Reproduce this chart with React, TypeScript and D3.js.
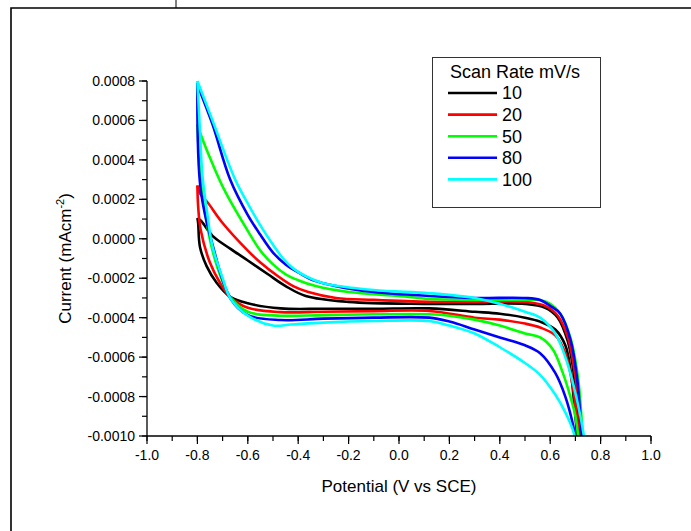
import React from 'react';
import * as d3 from 'd3';

type Pt = [number, number];

// scan rates (mV/s) and colours
const rates = ['10', '20', '50', '80', '100'];
const colors = ['#000000', '#ff0000', '#00ff00', '#0000ff', '#00ffff'];

// forward (upper) branches, potential V vs current
const upper10: Pt[] = [[-0.8, 0.000105], [-0.785, 0.00009], [-0.74, 0.000015], [-0.67, -0.00005], [-0.6, -0.00011], [-0.52, -0.00018], [-0.45, -0.00024], [-0.37, -0.00029], [-0.2, -0.00032], [0.1, -0.00033], [0.3, -0.00033], [0.5, -0.00033], [0.58, -0.00035], [0.63, -0.0004], [0.67, -0.00052], [0.69, -0.00065], [0.71, -0.0009], [0.72, -0.00105]];
const upper20: Pt[] = [[-0.8, 0.00027], [-0.79, 0.00023], [-0.757, 0.00018], [-0.7, 0.00008], [-0.6, -0.00006], [-0.55, -0.00012], [-0.48, -0.00019], [-0.42, -0.00024], [-0.36, -0.00027], [-0.25, -0.0003], [-0.1, -0.00031], [0.12, -0.00032], [0.3, -0.00032], [0.5, -0.00032], [0.58, -0.00034], [0.63, -0.00039], [0.67, -0.0005], [0.7, -0.0007], [0.72, -0.00095], [0.73, -0.00105]];
const upper50: Pt[] = [[-0.8, 0.00058], [-0.787, 0.00053], [-0.74, 0.00038], [-0.69, 0.00024], [-0.6, 0.00004], [-0.55, -0.00006], [-0.5, -0.00013], [-0.45, -0.00018], [-0.4, -0.00021], [-0.33, -0.00024], [-0.2, -0.00027], [0, -0.00029], [0.12, -0.000305], [0.3, -0.00031], [0.5, -0.00031], [0.56, -0.00031], [0.6, -0.00033], [0.64, -0.00038], [0.68, -0.0005], [0.71, -0.0007], [0.73, -0.001], [0.735, -0.00105]];
const upper80: Pt[] = [[-0.8, 0.00079], [-0.79, 0.00075], [-0.74, 0.00058], [-0.67, 0.0003], [-0.6, 0.00012], [-0.55, 0.00002], [-0.5, -0.00007], [-0.45, -0.00013], [-0.4, -0.00017], [-0.34, -0.00021], [-0.25, -0.00024], [-0.1, -0.00027], [0.12, -0.00029], [0.3, -0.0003], [0.5, -0.0003], [0.56, -0.00031], [0.6, -0.00034], [0.64, -0.00038], [0.68, -0.00051], [0.706, -0.0007], [0.726, -0.001], [0.73, -0.00105]];
const upper100: Pt[] = [[-0.8, 0.0008], [-0.74, 0.0006], [-0.65, 0.0003], [-0.59, 0.000156], [-0.544, 0.000055], [-0.5, -0.00003], [-0.46, -0.0001], [-0.42, -0.00015], [-0.37, -0.00019], [-0.3, -0.000225], [-0.1, -0.00026], [0.12, -0.000276], [0.3, -0.0003], [0.4, -0.00033], [0.5, -0.00037], [0.56, -0.0004], [0.62, -0.00048], [0.66, -0.0006], [0.69, -0.00073], [0.72, -0.0009], [0.74, -0.00105]];

// reverse (lower) branches
const lower10: Pt[] = [[-0.8, 0.000105], [-0.797, 0.00008], [-0.79, -0.00004], [-0.763, -0.00014], [-0.723, -0.000224], [-0.67, -0.000294], [-0.6, -0.000327], [-0.47, -0.000353], [-0.3, -0.000355], [-0.1, -0.000355], [0.12, -0.000353], [0.3, -0.00037], [0.4, -0.00038], [0.5, -0.0004], [0.56, -0.00042], [0.62, -0.00046], [0.66, -0.00054], [0.68, -0.00066], [0.7, -0.0009], [0.71, -0.00105]];
const lower20: Pt[] = [[-0.8, 0.00027], [-0.797, 0.000164], [-0.787, 0.000046], [-0.75, -0.000122], [-0.71, -0.000224], [-0.67, -0.000295], [-0.6, -0.00035], [-0.47, -0.000372], [-0.3, -0.00037], [-0.1, -0.000367], [0.12, -0.000366], [0.3, -0.0004], [0.4, -0.00041], [0.5, -0.00043], [0.56, -0.00045], [0.62, -0.00049], [0.66, -0.00058], [0.69, -0.00075], [0.71, -0.00095], [0.72, -0.00105]];
const lower50: Pt[] = [[-0.8, 0.00058], [-0.787, 0.0003], [-0.77, 0.000132], [-0.738, -0.00007], [-0.698, -0.000224], [-0.67, -0.000295], [-0.6, -0.00037], [-0.47, -0.00039], [-0.3, -0.000387], [-0.1, -0.000383], [0.12, -0.000383], [0.2, -0.00039], [0.3, -0.00041], [0.4, -0.00044], [0.5, -0.00048], [0.56, -0.0005], [0.61, -0.00056], [0.65, -0.00068], [0.68, -0.0008], [0.7, -0.0009], [0.715, -0.00105]];
const lower80: Pt[] = [[-0.8, 0.00079], [-0.787, 0.00025], [-0.738, -0.00004], [-0.67, -0.0003], [-0.6, -0.000387], [-0.47, -0.000412], [-0.3, -0.000405], [-0.1, -0.0004], [0.12, -0.0004], [0.2, -0.00042], [0.3, -0.00046], [0.4, -0.0005], [0.5, -0.00054], [0.56, -0.00058], [0.62, -0.00068], [0.66, -0.0008], [0.69, -0.00094], [0.705, -0.00105]];
const lower100: Pt[] = [[-0.8, 0.0008], [-0.79, 0.00055], [-0.78, 0.00032], [-0.76, 0.00012], [-0.74, -0.00004], [-0.7, -0.0002], [-0.67, -0.0003], [-0.6, -0.00039], [-0.5, -0.00044], [-0.43, -0.000435], [-0.3, -0.000425], [-0.1, -0.000417], [0.12, -0.000417], [0.2, -0.00044], [0.3, -0.00048], [0.4, -0.00055], [0.5, -0.00063], [0.56, -0.00069], [0.62, -0.00079], [0.66, -0.00088], [0.69, -0.00097], [0.71, -0.00108]];

const uppers = [upper10, upper20, upper50, upper80, upper100];
const lowers = [lower10, lower20, lower50, lower80, lower100];

const xTicks = [-1.0, -0.8, -0.6, -0.4, -0.2, 0.0, 0.2, 0.4, 0.6, 0.8, 1.0];
const yTicks = [-0.001, -0.0008, -0.0006, -0.0004, -0.0002, 0, 0.0002, 0.0004, 0.0006, 0.0008];

const W = 691;
const H = 531;
const margin = { top: 81, right: 40, bottom: 95, left: 147 };
const font = 'Liberation Sans, Arial, sans-serif';

export default function App() {
  const x = d3.scaleLinear().domain([-1, 1]).range([margin.left, W - margin.right]);
  const y = d3.scaleLinear().domain([-0.001, 0.0008]).range([H - margin.bottom, margin.top]);
  const line = d3.line<Pt>().x(d => x(d[0])).y(d => y(d[1])).curve(d3.curveCatmullRom.alpha(0.5));

  const xMinor = d3.range(-1, 1.001, 0.1);
  const yMinor = d3.range(-0.001, 0.00081, 0.0001);
  const x0 = x(-1);
  const yb = y(-0.001);

  return (
    <svg width={W} height={H} style={{ position: 'absolute', left: 0, top: 0, background: '#fff' }} fontFamily={font}>
      <defs>
        <clipPath id="plot">
          <rect x={x(-1)} y={y(0.0008) - 10} width={x(1) - x(-1)} height={yb - y(0.0008) + 10} />
        </clipPath>
      </defs>
      {/* outer frame */}
      <path d={`M11,${H} V8 H${W}`} fill="none" stroke="#000" strokeWidth={1.6} />
      <line x1={176} x2={176} y1={0} y2={8} stroke="#000" strokeWidth={1} />

      {/* curves */}
      <g clipPath="url(#plot)" fill="none" strokeWidth={2.6} strokeLinejoin="round">
        {rates.map((r, i) => (
          <g key={r} stroke={colors[i]}>
            <path d={line(lowers[i]) || ''} />
            <path d={line(uppers[i]) || ''} />
          </g>
        ))}
      </g>

      {/* y axis */}
      <line x1={x0} x2={x0} y1={y(0.0008)} y2={yb} stroke="#000" strokeWidth={1.3} />
      {yMinor.map((v, i) => (
        <line key={'ym' + i} x1={x0 - 5} x2={x0} y1={y(v)} y2={y(v)} stroke="#000" strokeWidth={1.2} />
      ))}
      {yTicks.map(v => (
        <g key={'y' + v}>
          <line x1={x0 - 8} x2={x0} y1={y(v)} y2={y(v)} stroke="#000" strokeWidth={1.2} />
          <text x={x0 - 12} y={y(v)} dy="0.36em" textAnchor="end" fontSize={14}>
            {v.toFixed(4).replace('-0.0000', '0.0000')}
          </text>
        </g>
      ))}

      {/* x axis */}
      <line x1={x0} x2={x(1)} y1={yb} y2={yb} stroke="#000" strokeWidth={1.3} />
      {xMinor.map((v, i) => (
        <line key={'xm' + i} x1={x(v)} x2={x(v)} y1={yb} y2={yb + 5} stroke="#000" strokeWidth={1.2} />
      ))}
      {xTicks.map(v => (
        <g key={'x' + v}>
          <line x1={x(v)} x2={x(v)} y1={yb} y2={yb + 8} stroke="#000" strokeWidth={1.2} />
          <text x={x(v)} y={yb + 24} textAnchor="middle" fontSize={14}>
            {v.toFixed(1)}
          </text>
        </g>
      ))}

      <text x={(x(-1) + x(1)) / 2} y={492} textAnchor="middle" fontSize={17}>
        Potential (V vs SCE)
      </text>
      <text transform={`translate(71,${(y(0.0008) + yb) / 2}) rotate(-90)`} textAnchor="middle" fontSize={17}>
        Current (mAcm<tspan dy={-7} fontSize={11}>-2</tspan><tspan dy={7}>)</tspan>
      </text>

      {/* legend */}
      <rect x={432.5} y={57.5} width={168} height={150} fill="#fff" stroke="#333" strokeWidth={1} />
      <text x={450} y={78} fontSize={18}>Scan Rate mV/s</text>
      {rates.map((r, i) => (
        <g key={'lg' + r}>
          <line x1={448} x2={497} y1={93 + i * 21.6} y2={93 + i * 21.6} stroke={colors[i]} strokeWidth={2.6} />
          <text x={502} y={93 + i * 21.6} dy="0.36em" fontSize={18}>{r}</text>
        </g>
      ))}
    </svg>
  );
}
